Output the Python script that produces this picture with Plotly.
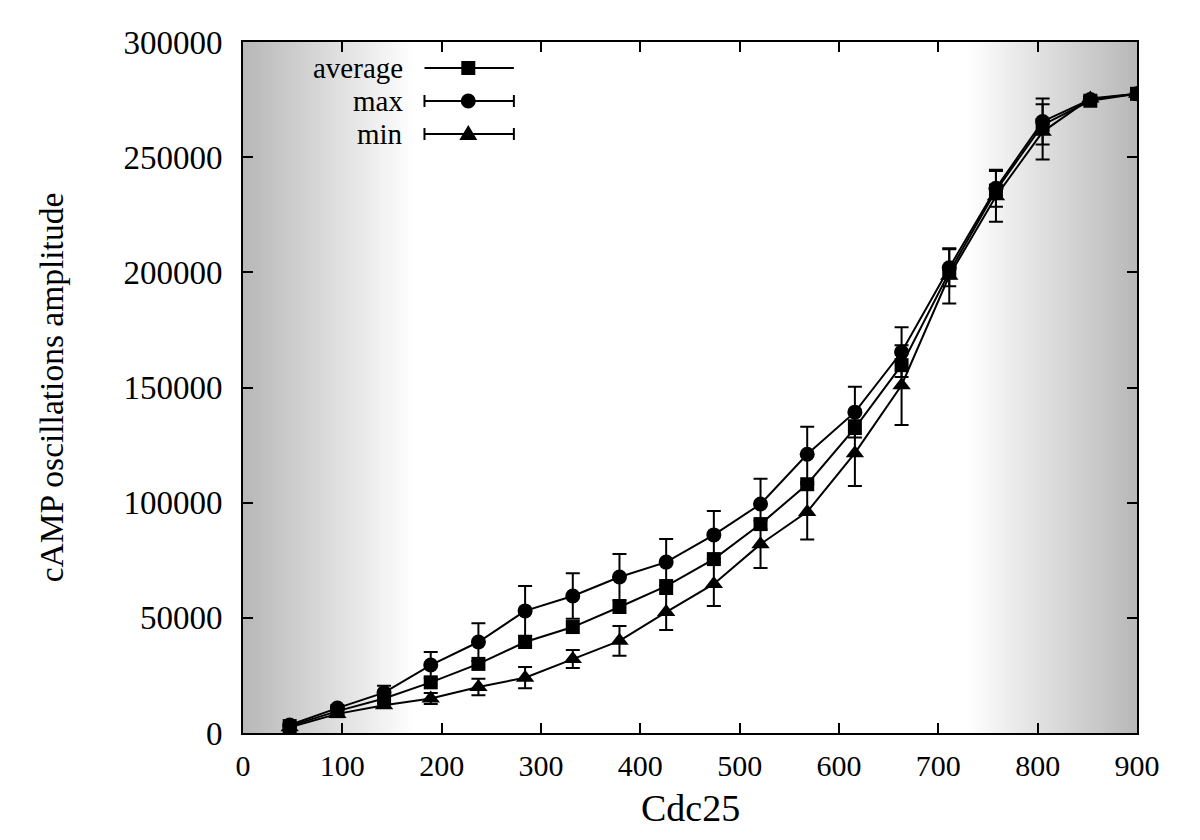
import numpy as np
import plotly.graph_objects as go

# ---- data ----
cdc25 = [47, 95, 142, 189, 237, 284, 332, 379, 426, 474, 521, 568, 616, 663, 711, 758, 805, 853, 900]
average = [3000, 9500, 15000, 22000, 30000, 39500, 46000, 54700, 63800, 75500, 90700, 108000,
           132400, 159700, 200000, 235500, 264000, 274500, 277500]
maximum = [3500, 10800, 17500, 29500, 39500, 53000, 59500, 67700, 74200, 86000, 99400, 121000,
           139300, 165400, 202000, 236500, 265500, 275000, 277500]
minimum = [2500, 8300, 12000, 15000, 20000, 24000, 32100, 40000, 52500, 64700, 82000, 96000,
           121500, 151000, 198500, 233000, 261000, 275500, 277500]
max_err = [0, 500, 3000, 5700, 8200, 10800, 9900, 10000, 10000, 10400, 11000, 12000,
           11000, 10800, 8000, 8000, 10000, 1000, 500]
min_err = [0, 500, 1000, 2400, 3600, 4600, 3900, 6500, 7800, 9600, 10400, 12000,
           14300, 17300, 12000, 11000, 12000, 1000, 500]
series_names = ["average", "max", "min"]
x_ticks = [0, 100, 200, 300, 400, 500, 600, 700, 800, 900]
y_ticks = [0, 50000, 100000, 150000, 200000, 250000, 300000]

FONT = "Liberation Serif"
X_RANGE = [0, 900]
Y_RANGE = [0, 300000]

fig = go.Figure()

# ---- gray gradient background (decorative) ----
gx = np.linspace(0, 900, 361)
dark = 0.72
left_end, right_start = 172, 728
g = np.ones_like(gx)
g = np.where(gx < left_end, dark + (1 - dark) * gx / left_end, g)
g = np.where(gx > right_start, 1 - (1 - dark) * (gx - right_start) / (900 - right_start), g)
fig.add_trace(go.Heatmap(
    x=gx, y=Y_RANGE, z=[g, g], zmin=0, zmax=1,
    colorscale=[[0, "rgb(0,0,0)"], [1, "rgb(255,255,255)"]],
    zsmooth="best", showscale=False, hoverinfo="skip"))

line_style = dict(color="black", width=2)
err_style = dict(color="black", thickness=2, width=7)

fig.add_trace(go.Scatter(x=cdc25, y=average, name=series_names[0], mode="lines+markers",
                         line=line_style, marker=dict(symbol="square", size=14, color="black"),
                         showlegend=False))
fig.add_trace(go.Scatter(x=cdc25, y=maximum, name=series_names[1], mode="lines+markers",
                         line=line_style, marker=dict(symbol="circle", size=15, color="black"),
                         error_y=dict(type="data", array=max_err, visible=True, **err_style),
                         showlegend=False))
fig.add_trace(go.Scatter(x=cdc25, y=minimum, name=series_names[2], mode="lines+markers",
                         line=line_style, marker=dict(symbol="triangle-up", size=16, color="black"),
                         error_y=dict(type="data", array=min_err, visible=True, **err_style),
                         showlegend=False))

# ---- gnuplot-style key (text left of sample) ----
key_rows = [0.9624, 0.9146, 0.8669]
key_text_x = 0.181
key_x0, key_x1, key_xm = 0.203, 0.303, 0.252
shapes = []
annotations = []
for i, (name, ky) in enumerate(zip(series_names, key_rows)):
    annotations.append(dict(x=key_text_x, y=ky, xref="paper", yref="paper", text=name,
                            showarrow=False, xanchor="right", yanchor="middle",
                            font=dict(family=FONT, size=29, color="black")))
    shapes.append(dict(type="line", xref="paper", yref="paper", x0=key_x0, x1=key_x1,
                       y0=ky, y1=ky, line=dict(color="black", width=2)))
    if i > 0:
        for cx in (key_x0, key_x1):
            shapes.append(dict(type="line", xref="paper", yref="paper", xsizemode="pixel",
                               ysizemode="pixel", xanchor=cx, yanchor=ky,
                               x0=0, x1=0, y0=-6, y1=6, line=dict(color="black", width=2)))
    common = dict(xref="paper", yref="paper", xsizemode="pixel", ysizemode="pixel",
                  xanchor=key_xm, yanchor=ky, fillcolor="black", line=dict(width=0))
    if i == 0:
        shapes.append(dict(type="rect", x0=-7, x1=7, y0=-7, y1=7, **common))
    elif i == 1:
        shapes.append(dict(type="circle", x0=-7.5, x1=7.5, y0=-7.5, y1=7.5, **common))
    else:
        shapes.append(dict(type="path", path="M -9,-6 L 9,-6 L 0,9 Z", **common))

# x-axis title placed like gnuplot's (closer to tick labels than plotly allows)
annotations.append(dict(x=0.5, y=-0.1085, xref="paper", yref="paper", text="Cdc25",
                        showarrow=False, xanchor="center", yanchor="middle",
                        font=dict(family=FONT, size=38, color="black")))

axis_common = dict(showline=True, linecolor="black", linewidth=2, mirror="ticks",
                   ticks="inside", ticklen=10, tickwidth=1.5, tickcolor="black",
                   showgrid=False, zeroline=False)

fig.update_layout(
    width=1192, height=832,
    margin=dict(l=235, r=63, t=34, b=107),
    paper_bgcolor="white", plot_bgcolor="white",
    font=dict(family=FONT, color="black"),
    xaxis=dict(range=X_RANGE, tickvals=x_ticks, ticktext=[str(v) for v in x_ticks],
               tickfont=dict(family=FONT, size=30), ticklabelstandoff=5,
               **axis_common),
    yaxis=dict(range=Y_RANGE, tickvals=y_ticks, ticktext=[str(v) for v in y_ticks],
               tickfont=dict(family=FONT, size=33), ticklabelstandoff=12,
               title=dict(text="cAMP oscillations amplitude", font=dict(family=FONT, size=33.5),
                          standoff=50),
               **axis_common),
    shapes=shapes, annotations=annotations, showlegend=False,
)

fig.write_html("out.html")
